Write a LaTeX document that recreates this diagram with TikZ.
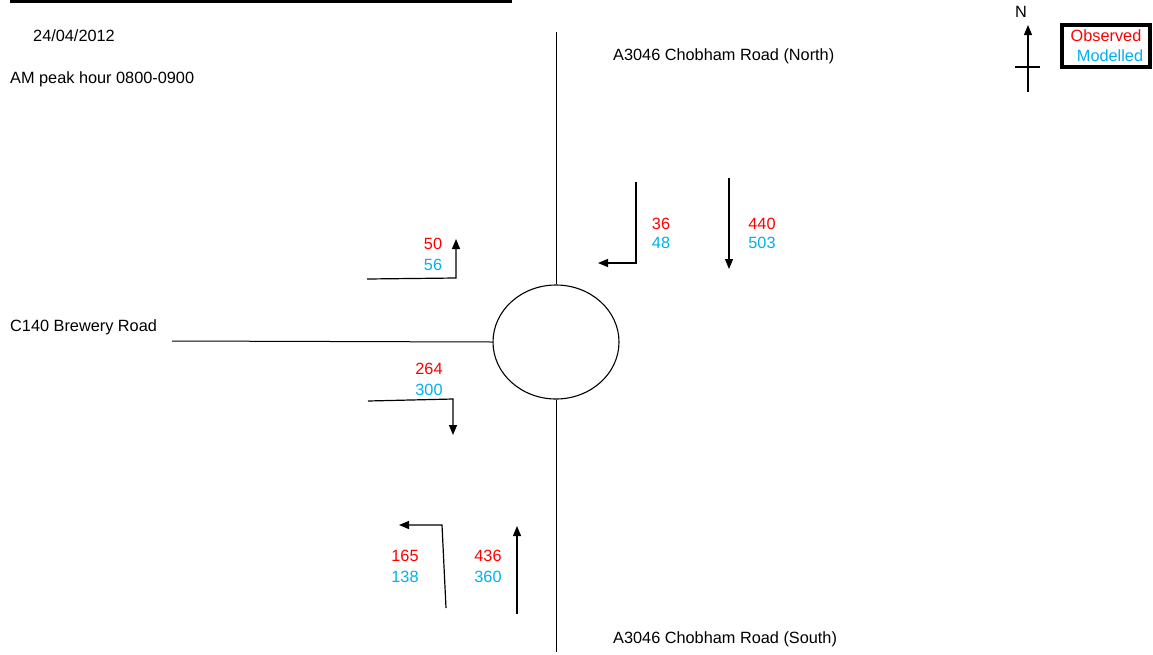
\documentclass[tikz,border=0pt]{standalone}
\usepackage{fontspec}
\setmainfont{Liberation Sans}
\usetikzlibrary{arrows.meta,shapes.geometric}
\definecolor{obs}{RGB}{255,0,0}
\definecolor{mod}{RGB}{0,176,240}
\begin{document}
\begin{tikzpicture}[x=1pt,y=-1pt,
  txt/.style={inner sep=0pt,font=\fontsize{16.3}{19}\selectfont},
  lbl/.style={txt,anchor=west},
  obsn/.style={txt,text=obs},
  modn/.style={txt,text=mod},
  road/.style={line width=1pt},
  flow/.style={line width=1.2pt,-{Triangle[length=10pt,width=8pt]}}]
\useasboundingbox (0,0) rectangle (1153,654);
% header rule
\draw[line width=3pt] (10,1) -- (512,1);
% texts
\node[lbl] (date) at (33,36) {24/04/2012};
\node[lbl] (peak) at (10,79) {AM peak hour 0800-0900};
\node[lbl] (north) at (613,56) {A3046 Chobham Road (North)};
\node[lbl] (west) at (10,327) {C140 Brewery Road};
\node[lbl] (south) at (613,639) {A3046 Chobham Road (South)};
% roundabout
\node[ellipse,draw,line width=1.1pt,minimum width=126pt,minimum height=114pt,inner sep=0pt] (rb) at (556,342) {};
\coordinate (nend) at (556,32);
\coordinate (send) at (556,652);
\coordinate (wend) at (172,341);
\draw[road] (nend) -- (rb.north);
\draw[road] (rb.south) -- (send);
\draw[road] (wend) -- (rb.west);
% north arrow
\coordinate (na1) at (1028,92);
\coordinate (na2) at (1028,25);
\coordinate (nc1) at (1015,67);
\coordinate (nc2) at (1040,67);
\draw[line width=1.1pt,-{Triangle[length=10pt,width=8pt]}] (na1) -- (na2);
\draw[line width=1.1pt] (nc1) -- (nc2);
\node[txt] (N) at (1021,12) {N};
% legend
\node[draw,line width=3.5pt,minimum width=88pt,minimum height=42pt,inner sep=0pt] (leg) at (1106,46) {};
\node[obsn] (lo) at (1106,36) {Observed};
\node[modn] (lm) at (1110,56) {Modelled};
% flows north approach
\coordinate (a1s) at (636,182);
\coordinate (a1e) at (598,263);
\draw[flow] (a1s) |- (a1e);
\coordinate (a2s) at (729,178);
\coordinate (a2e) at (729,269);
\draw[flow] (a2s) -- (a2e);
\node[obsn] (v36) at (661,224) {36};
\node[modn] (v48) at (661,243) {48};
\node[obsn] (v440) at (762,224) {440};
\node[modn] (v503) at (762,243) {503};
% flows west approach
\coordinate (b1s) at (367,279);
\coordinate (b1m) at (456,278);
\coordinate (b1e) at (456,239);
\draw[flow] (b1s) -- (b1m) -- (b1e);
\node[obsn] (v50) at (433,244) {50};
\node[modn] (v56) at (433,265) {56};
\coordinate (b2s) at (368,401);
\coordinate (b2m) at (453,399);
\coordinate (b2e) at (453,435);
\draw[flow] (b2s) -- (b2m) -- (b2e);
\node[obsn] (v264) at (429,369) {264};
\node[modn] (v300) at (429,390) {300};
% flows south approach
\coordinate (c1s) at (446,608);
\coordinate (c1m) at (442,525);
\coordinate (c1e) at (399,525);
\draw[flow] (c1s) -- (c1m) -- (c1e);
\node[obsn] (v165) at (405,556) {165};
\node[modn] (v138) at (405,577) {138};
\coordinate (c2s) at (517,614);
\coordinate (c2e) at (517,526);
\draw[flow] (c2s) -- (c2e);
\node[obsn] (v436) at (488,556) {436};
\node[modn] (v360) at (488,577) {360};
\end{tikzpicture}
\end{document}
